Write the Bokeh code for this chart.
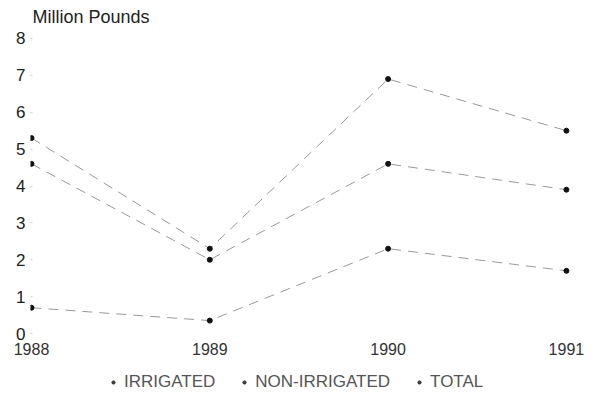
from bokeh.plotting import figure
from bokeh.layouts import column
from bokeh.models import Range1d, FixedTicker, Legend, LegendItem
from bokeh.embed import file_html
from bokeh.resources import INLINE

years = [1988, 1989, 1990, 1991]
irrigated = [0.7, 0.35, 2.3, 1.7]
non_irrigated = [4.6, 2.0, 4.6, 3.9]
total = [5.3, 2.3, 6.9, 5.5]
y_ticks = [0, 1, 2, 3, 4, 5, 6, 7, 8]
series_names = ["IRRIGATED", "NON-IRRIGATED", "TOTAL"]

FONT = "Liberation Sans"

p = figure(width=600, height=362,
           x_range=Range1d(1987.9944, 1991.079),
           y_range=Range1d(-0.189, 8.189),
           output_backend="svg", toolbar_location=None,
           min_border_left=30, min_border_right=20,
           min_border_top=30, min_border_bottom=22)

p.outline_line_color = None
p.background_fill_color = "white"
p.border_fill_color = "white"
p.xgrid.grid_line_color = None
p.ygrid.grid_line_color = None

p.title.text = "Million Pounds"
p.title.text_font = FONT
p.title.text_font_size = "18px"
p.title.text_font_style = "normal"
p.title.text_color = "#222222"
p.title.align = "left"
p.title.offset = 2
p.title.standoff = 9

# y axis
ya = p.yaxis[0]
ya.ticker = FixedTicker(ticks=y_ticks)
ya.axis_line_color = None
ya.major_tick_in = 2
ya.major_tick_out = 0
ya.major_tick_line_color = "#cccccc"
ya.minor_tick_line_color = None
ya.major_label_standoff = 5
ya.major_label_text_font = FONT
ya.major_label_text_font_size = "17px"
ya.major_label_text_color = "#222222"

# x axis
xa = p.xaxis[0]
xa.ticker = FixedTicker(ticks=years)
xa.axis_line_color = None
xa.major_tick_in = 0
xa.major_tick_out = 0
xa.minor_tick_line_color = None
xa.major_label_standoff = 2
xa.major_label_text_font = FONT
xa.major_label_text_font_size = "16px"
xa.major_label_text_color = "#333333"

for vals in [irrigated, non_irrigated, total]:
    p.line(years, vals, line_color="#999999", line_width=1, line_dash="10 7")
    p.scatter(years, vals, size=5, marker="circle",
              fill_color="#111111", line_color="#111111")

# legend strip below the chart (its renderers fall outside its own ranges)
lg = figure(width=600, height=36, x_range=Range1d(0, 1), y_range=Range1d(0, 1),
            output_backend="svg", toolbar_location=None,
            min_border_left=0, min_border_right=0,
            min_border_top=0, min_border_bottom=0)
lg.axis.visible = False
lg.xgrid.grid_line_color = None
lg.ygrid.grid_line_color = None
lg.outline_line_color = None

items = []
for name, vals in zip(series_names, [irrigated, non_irrigated, total]):
    r = lg.scatter(x=years, y=vals, size=4, marker="circle",
                   fill_color="#333333", line_color="#333333")
    items.append(LegendItem(label=name, renderers=[r]))

legend = Legend(items=items, orientation="horizontal", location=(79, 6),
                glyph_width=8, glyph_height=8, label_standoff=7, spacing=25,
                label_text_font=FONT, label_text_font_size="17px",
                label_text_color="#555555", border_line_color=None,
                background_fill_alpha=0, margin=0, padding=0)
lg.add_layout(legend)

layout = column(p, lg, spacing=0)
open("out.html", "w").write(file_html(layout, INLINE))
